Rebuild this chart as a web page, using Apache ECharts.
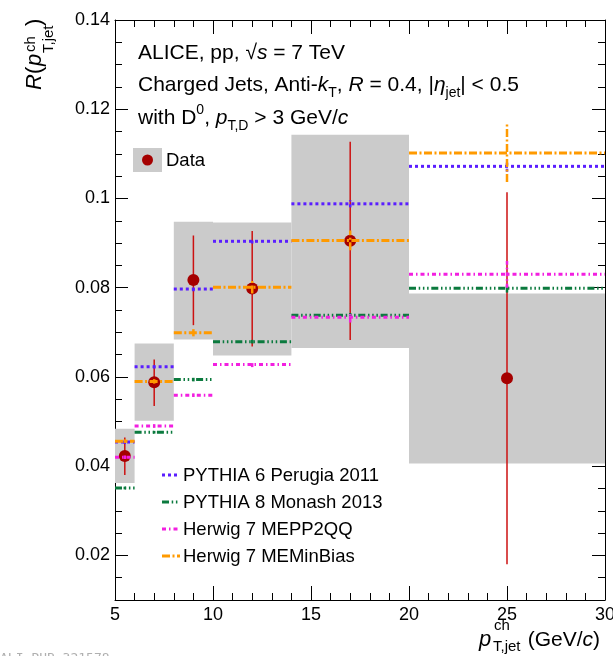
<!DOCTYPE html>
<html><head><meta charset="utf-8">
<script src="https://cdn.jsdelivr.net/npm/echarts@6/dist/echarts.min.js"></script>
<style>html,body{margin:0;padding:0;background:#fff}#c{width:613px;height:656px}</style>
</head><body><div id="c"></div>
<script>
// ---- data ----
const binLo = [5, 6, 8, 10, 14, 20];
const binHi = [6, 8, 10, 14, 20, 30];
const dataX = [5.5, 7, 9, 12, 17, 25];
const dataY = [0.0423, 0.0588, 0.0817, 0.0798, 0.0905, 0.0597];
const statLo = [0.0380, 0.0535, 0.0716, 0.0668, 0.0683, 0.0180];
const statHi = [0.0464, 0.0639, 0.0917, 0.0927, 0.1127, 0.1014];
const systLo = [0.0362, 0.0502, 0.0684, 0.0648, 0.0665, 0.0406];
const systHi = [0.0484, 0.0675, 0.0948, 0.0946, 0.1143, 0.0787];
const pythia6 = [0.0454, 0.0623, 0.0797, 0.0904, 0.0988, 0.1072];
const pythia6Err = [0.0004, 0.0004, 0.0005, 0.0005, 0.0008, 0.0012];
const pythia8 = [0.0351, 0.0476, 0.0594, 0.0679, 0.0738, 0.0799];
const pythia8Err = [0.0003, 0.0003, 0.0004, 0.0004, 0.0005, 0.0010];
const herwigQQ = [0.0420, 0.0490, 0.0559, 0.0628, 0.0734, 0.0830];
const herwigQQErr = [0.0004, 0.0004, 0.0004, 0.0006, 0.0012, 0.0030];
const herwigMB = [0.0456, 0.0590, 0.0699, 0.0801, 0.0906, 0.1102];
const herwigMBErr = [0.0004, 0.0005, 0.0008, 0.0014, 0.0022, 0.0065];
const modelNames = ['PYTHIA 6 Perugia 2011', 'PYTHIA 8 Monash 2013', 'Herwig 7 MEPP2QQ', 'Herwig 7 MEMinBias'];
const yMajorTicks = [0.02, 0.04, 0.06, 0.08, 0.1, 0.12, 0.14];
const yMinorTicks = [0.015, 0.025, 0.03, 0.035, 0.045, 0.05, 0.055, 0.065, 0.07, 0.075, 0.085, 0.09, 0.095, 0.105, 0.11, 0.115, 0.125, 0.13, 0.135];

// ---- style ----
const FONT = '"Liberation Sans", Arial, Helvetica, sans-serif';
const modelStyles = [
  { color: '#5a1eff', dash: [3, 3] },
  { color: '#0b7a3e', dash: [7, 2.7, 1.5, 2.7, 1.5, 2.7, 1.5, 2.7] },
  { color: '#f21fe0', dash: [4, 3, 1.5, 3] },
  { color: '#ff9a00', dash: [8, 2.5, 2, 2.5] }
];
const modelVals = [pythia6, pythia8, herwigQQ, herwigMB];
const modelErrs = [pythia6Err, pythia8Err, herwigQQErr, herwigMBErr];

const chart = echarts.init(document.getElementById('c'), null, { renderer: 'canvas' });

function yLab(v) { return String(parseFloat(v.toFixed(3))); }

function xAxisDef(pos, showLabel) {
  return {
    type: 'value', min: 5, max: 30, interval: 5, position: pos,
    axisLine: { show: true, onZero: false, lineStyle: { color: '#000', width: 1 } },
    axisTick: { show: true, inside: true, length: 14, lineStyle: { color: '#000', width: 1 } },
    minorTick: { show: true, splitNumber: 5, length: 7, lineStyle: { color: '#000', width: 1 } },
    axisLabel: { show: showLabel, margin: 6, fontSize: 18, fontFamily: FONT, color: '#000' },
    splitLine: { show: false }, minorSplitLine: { show: false }
  };
}
function yAxisDef(pos, ticks, len, showLine, showLabel) {
  return {
    type: 'value', min: 0.01, max: 0.14, position: pos,
    axisLine: { show: showLine, onZero: false, lineStyle: { color: '#000', width: 1 } },
    axisTick: { show: true, inside: true, length: len, customValues: ticks, lineStyle: { color: '#000', width: 1 } },
    axisLabel: { show: showLabel, customValues: yMajorTicks, formatter: yLab, margin: 5, fontSize: 18, fontFamily: FONT, color: '#000' },
    splitLine: { show: false }
  };
}

const series = [];
// systematic boxes
series.push({
  type: 'custom', z: 1, silent: true,
  encode: { x: [0, 1], y: [2, 3] },
  data: binLo.map((lo, i) => [lo, binHi[i], systLo[i], systHi[i]]),
  renderItem: function (params, api) {
    const p1 = api.coord([api.value(0), api.value(3)]);
    const p2 = api.coord([api.value(1), api.value(2)]);
    return { type: 'rect', shape: { x: p1[0], y: p1[1], width: p2[0] - p1[0], height: p2[1] - p1[1] }, style: { fill: '#cbcbcb' } };
  }
});
// data points with stat errors
series.push({
  type: 'custom', z: 2, silent: true,
  encode: { x: 0, y: [1, 2, 3] },
  data: dataX.map((x, i) => [x, dataY[i], statLo[i], statHi[i]]),
  renderItem: function (params, api) {
    const c = api.coord([api.value(0), api.value(1)]);
    const lo = api.coord([api.value(0), api.value(2)]);
    const hi = api.coord([api.value(0), api.value(3)]);
    return { type: 'group', children: [
      { type: 'line', shape: { x1: lo[0], y1: lo[1], x2: hi[0], y2: hi[1] }, style: { stroke: '#cc1111', lineWidth: 1.5 } },
      { type: 'circle', shape: { cx: c[0], cy: c[1], r: 6 }, style: { fill: '#a50000' } }
    ] };
  }
});
// models
modelVals.forEach((vals, m) => {
  const st = modelStyles[m];
  series.push({
    type: 'custom', z: 3 + m, silent: true, name: modelNames[m],
    encode: { x: [0, 1], y: 2 },
    data: binLo.map((lo, i) => [lo, binHi[i], vals[i], modelErrs[m][i], dataX[i]]),
    renderItem: function (params, api) {
      const v = api.value(2), e = api.value(3), xc = api.value(4);
      const a = api.coord([api.value(0), v]);
      const b = api.coord([api.value(1), v]);
      const c1 = api.coord([xc, v - e]);
      const c2 = api.coord([xc, v + e]);
      const style = { stroke: st.color, lineWidth: 3, lineDash: st.dash };
      return { type: 'group', children: [
        { type: 'line', shape: { x1: a[0], y1: a[1], x2: b[0], y2: b[1] }, style: style },
        { type: 'line', shape: { x1: c1[0], y1: c1[1], x2: c2[0], y2: c2[1] }, style: { stroke: st.color, lineWidth: 2.5, lineDash: st.dash } }
      ] };
    }
  });
});

// ---- texts ----
const rich = {
  n: { fontSize: 21, fontFamily: FONT, fill: '#000', lineHeight: 30 },
  i: { fontSize: 21, fontFamily: FONT, fill: '#000', lineHeight: 30, fontStyle: 'italic' },
  sb: { fontSize: 14, fontFamily: FONT, fill: '#000', lineHeight: 14, verticalAlign: 'bottom' },
  sbd: { fontSize: 14, fontFamily: FONT, fill: '#000', lineHeight: 6, verticalAlign: 'bottom' },
  sp: { fontSize: 14, fontFamily: FONT, fill: '#000', lineHeight: 14, verticalAlign: 'top' }
};
function header(txt, y) {
  return { type: 'text', x: 138, y: y, z: 100, style: { text: txt, rich: rich, align: 'left', verticalAlign: 'middle' } };
}
const graphics = [
  header('{n|ALICE, pp, √}{i|s}{n| = 7 TeV}', 53),
  header('{n|Charged Jets, Anti-}{i|k}{sb|T}{n|, }{i|R}{n| = 0.4, |}{i|η}{sbd|jet}{n|| < 0.5}', 85),
  header('{n|with D}{sp|0}{n|, }{i|p}{sbd|T,D}{n| > 3 GeV/}{i|c}', 118),
  // Data legend
  { type: 'rect', shape: { x: 133, y: 148, width: 29, height: 24 }, style: { fill: '#cbcbcb' }, z: 100 },
  { type: 'circle', shape: { cx: 147.5, cy: 160, r: 5.5 }, style: { fill: '#a50000' }, z: 101 },
  { type: 'text', x: 166, y: 161, z: 100, style: { text: 'Data', font: '18.5px ' + FONT, fill: '#000', verticalAlign: 'middle' } },
  // watermark
  { type: 'text', x: 0, y: 652, z: 100, style: { text: 'ALI−PUB−321578', font: '13px "DejaVu Sans Mono", monospace', fill: '#b0b0b0', verticalAlign: 'top' } },
  // x axis title
  { type: 'text', x: 479, y: 640, z: 100, style: { text: 'p', font: 'italic 22px ' + FONT, fill: '#000', verticalAlign: 'middle' } },
  { type: 'text', x: 494, y: 626, z: 100, style: { text: 'ch', font: '15px ' + FONT, fill: '#000', verticalAlign: 'middle' } },
  { type: 'text', x: 493, y: 647, z: 100, style: { text: 'T,jet', font: '15px ' + FONT, fill: '#000', verticalAlign: 'middle' } },
  { type: 'text', x: 600, y: 640, z: 100, style: { text: '{n|(GeV/}{i|c}{n|)}', rich: rich, align: 'right', verticalAlign: 'middle' } },
  // y axis title (rotated)
  { type: 'group', x: 35, y: 90, rotation: Math.PI / 2, z: 100, children: [
    { type: 'text', x: 0, y: 0, style: { text: 'R', font: 'italic 22px ' + FONT, fill: '#000', verticalAlign: 'middle' } },
    { type: 'text', x: 16, y: 0, style: { text: '(', font: '22px ' + FONT, fill: '#000', verticalAlign: 'middle' } },
    { type: 'text', x: 24, y: 0, style: { text: 'p', font: 'italic 22px ' + FONT, fill: '#000', verticalAlign: 'middle' } },
    { type: 'text', x: 38, y: -4, style: { text: 'ch', font: '15px ' + FONT, fill: '#000', verticalAlign: 'middle' } },
    { type: 'text', x: 37, y: 14, style: { text: 'T,jet', font: '15px ' + FONT, fill: '#000', verticalAlign: 'middle' } },
    { type: 'text', x: 64, y: 0, style: { text: ')', font: '22px ' + FONT, fill: '#000', verticalAlign: 'middle' } }
  ] }
];
// model legend
const legY = [475, 502, 529, 556];
modelNames.forEach((nm, m) => {
  graphics.push({ type: 'line', z: 100, shape: { x1: 162, y1: legY[m], x2: 180, y2: legY[m] }, style: { stroke: modelStyles[m].color, lineWidth: 3, lineDash: modelStyles[m].dash } });
  graphics.push({ type: 'text', x: 183, y: legY[m] + 1, z: 100, style: { text: nm, font: '18.5px ' + FONT, fill: '#000', verticalAlign: 'middle' } });
});

chart.setOption({
  animation: false,
  backgroundColor: '#fff',
  grid: { left: 115, right: 8, top: 20, bottom: 56, outerBoundsMode: 'none', containLabel: false },
  xAxis: [xAxisDef('bottom', true), xAxisDef('top', false)],
  yAxis: [
    yAxisDef('left', yMajorTicks, 13, true, true),
    yAxisDef('left', yMinorTicks, 7, false, false),
    yAxisDef('right', yMajorTicks, 13, true, false),
    yAxisDef('right', yMinorTicks, 7, false, false)
  ],
  series: series,
  graphic: graphics
});
</script>
</body></html>
